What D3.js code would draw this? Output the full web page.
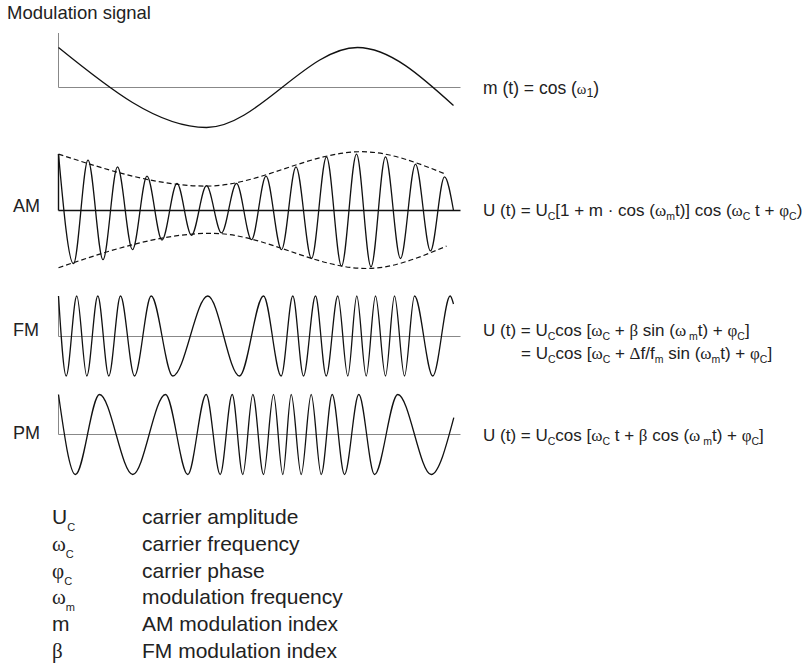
<!DOCTYPE html>
<meta charset="utf-8">
<head>
    <meta charset="utf-8">
    <title>Modulation signals</title>
    <script src="https://d3js.org/d3.v7.min.js"></script>
    <style>
        body { margin: 0; background: #fff; }
        text { font-family: 'Liberation Sans', Arial, sans-serif; fill: #222; }
        .greek { font-family: 'Liberation Serif', 'Times New Roman', serif; }
    </style>
</head>
<body>
<div id="my_dataviz"></div>
<script>
    // extremum positions (time units along the axis) and values
    var modT = [0, 148, 299, 395];
    var modV = [1, -1, 1, -0.45];

    var amT = [0, 15, 29.5, 44.5, 59, 74, 88.5, 103.5, 118.5, 133, 148, 163, 178, 193, 207.5,
               223, 237.5, 253, 268, 283, 298, 312.5, 327, 342, 357, 372, 386, 395];
    var amV = [1.41, -1.33, 1.26, -1.23, 1.09, -0.98, 0.86, -0.74, 0.68, -0.62, 0.62, -0.56, 0.68, -0.73, 0.86,
               -0.98, 1.09, -1.2, 1.34, -1.39, 1.41, -1.41, 1.34, -1.2, 1.16, -1.01, 0.84, 0];

    var envUpT = [0, 148, 303, 388];
    var envUpV = [1.41, 0.61, 1.47, 0.9];
    var envLoT = [0, 153, 308, 388];
    var envLoV = [-1.43, -0.57, -1.45, -0.89];

    var fmT = [0, 7.7, 18.3, 28.3, 39.3, 50.3, 62, 76, 92.7, 114.3, 149.3, 181, 205, 222.7, 234.3,
               245, 257, 267.7, 279.3, 289.3, 298.3, 307.7, 317, 327, 336, 346, 356, 374.3, 391.7, 395];
    var fmV = [1, -1, 1, -1, 1, -1, 1, -1, 1, -1, 1, -1, 1, -1, 1,
               -1, 1, -1, 1, -1, 1, -1, 1, -1, 1, -1, 1, -1, 1, 0.8];

    var pmT = [0, 17, 41, 74.3, 107, 129.3, 147.7, 161.7, 173.7, 184.3, 194.3, 205, 215, 224.3,
               232.7, 242.7, 252.7, 262.7, 273.7, 286, 300.3, 316, 339.3, 372.7, 395.3];
    var pmV = [1, -1, 1, -1, 1, -1, 1, -1, 1, -1, 1, -1, 1, -1,
               1, -1, 1, -1, 1, -1, 1, -1, 1, -1, 0.42];

    // text pieces: [text, kind] kind = g (greek), sub (subscript)
    var modFormula = [["m (t) = cos ("], ["ω", "g1"], ["1", "sub1"], [")"]];
    var amFormula = [["U (t) = U"], ["C", "sub"], ["[1 + m · cos ("], ["ω", "g"], ["m", "sub"], ["t)] cos ("],
                     ["ω", "g"], ["C", "sub"], [" t + "], ["φ", "g"], ["C", "sub"], [")"]];
    var fmFormula1 = [["U (t) = U"], ["C", "sub"], ["cos ["], ["ω", "g"], ["C", "sub"], [" + "], ["β", "g"],
                      [" sin ("], ["ω", "g"], [" m", "sub"], ["t) + "], ["φ", "g"], ["C", "sub"], ["]"]];
    var fmFormula2 = [["= U"], ["C", "sub"], ["cos ["], ["ω", "g"], ["C", "sub"], [" + "], ["Δ", "g"], ["f/f"],
                      ["m", "sub"], [" sin ("], ["ω", "g"], ["m", "sub"], ["t) + "], ["φ", "g"], ["C", "sub"], ["]"]];
    var pmFormula = [["U (t) = U"], ["C", "sub"], ["cos ["], ["ω", "g"], ["C", "sub"], [" t + "], ["β", "g"],
                     [" cos ("], ["ω", "g"], [" m", "sub"], ["t) + "], ["φ", "g"], ["C", "sub"], ["]"]];

    var rowLabels = ["AM", "FM", "PM"];
    var legendSymbols = [[["U"], ["C", "lsub"]], [["ω", "g"], ["C", "lsub"]], [["φ", "g"], ["C", "lsub"]],
                         [["ω", "g"], ["m", "lsub"]], [["m"]], [["β", "g"]]];
    var legendTexts = ["carrier amplitude", "carrier frequency", "carrier phase",
                       "modulation frequency", "AM modulation index", "FM modulation index"];

    var width = 810, height = 666;

    var svg = d3.select("#my_dataviz")
        .append("svg")
        .attr("width", width)
        .attr("height", height);

    svg.append("rect").attr("width", width).attr("height", height).attr("fill", "#fff");

    // shared time axis
    var x = d3.scaleLinear().domain([0, 402]).range([58.5, 460.5]);

    function yScale(cy) {
        return d3.scaleLinear().domain([-1, 1]).range([cy + 40, cy - 40]);
    }

    function drawAxis(cy, top, color, w) {
        svg.append("line")
            .attr("x1", x(0)).attr("x2", x(402)).attr("y1", cy).attr("y2", cy)
            .attr("stroke", color).attr("stroke-width", w);
        svg.append("line")
            .attr("x1", x(0)).attr("x2", x(0)).attr("y1", top).attr("y2", cy)
            .attr("stroke", color).attr("stroke-width", w);
    }

    function drawWave(ts, vs, y, dash) {
        var line = d3.line()
            .x(function(d) { return x(d[0]); })
            .y(function(d) { return y(d[1]); })
            .curve(d3.curveMonotoneX);
        svg.append("path")
            .datum(d3.zip(ts, vs))
            .attr("d", line)
            .attr("fill", "none")
            .attr("stroke", "#111")
            .attr("stroke-width", dash ? 1.2 : 1.3)
            .attr("stroke-dasharray", dash ? "5,3" : null);
    }

    // rich text with greek letters and subscripts
    function richText(parts, px, py, size) {
        var t = svg.append("text").attr("x", px).attr("y", py).style("font-size", size + "px");
        var shift = 0;
        parts.forEach(function(p) {
            var kind = p[1] || "";
            var s = t.append("tspan").text(p[0]);
            var target = 0;
            if (kind === "sub") { target = 4; s.style("font-size", "10.5px"); }
            else if (kind === "sub1") { target = 3; s.style("font-size", "12.5px"); }
            else if (kind === "lsub") { target = 7; s.style("font-size", "11px"); }
            else if (kind === "g") { s.attr("class", "greek"); }
            else if (kind === "g1") { s.attr("class", "greek").style("font-size", (size - 3) + "px"); }
            if (target !== shift) { s.attr("dy", target - shift); shift = target; }
        });
        return t;
    }

    // title
    svg.append("text").attr("x", 7).attr("y", 19).style("font-size", "18.5px").text("Modulation signal");

    // modulation signal
    var yMod = yScale(87.5);
    drawAxis(87.5, 33, "#888", 1);
    drawWave(modT, modV, yMod);

    // AM
    var yAm = yScale(210.5);
    drawAxis(210.5, 154, "#111", 1.4);
    drawWave(envUpT, envUpV, yAm, true);
    drawWave(envLoT, envLoV, yAm, true);
    drawWave(amT, amV, yAm);

    // FM
    var yFm = yScale(336);
    drawAxis(336.5, 296, "#888", 1);
    drawWave(fmT, fmV, yFm);

    // PM
    var yPm = yScale(434.5);
    drawAxis(434.5, 395, "#888", 1);
    drawWave(pmT, pmV, yPm);

    // row labels
    var labelY = [212, 336, 439];
    rowLabels.forEach(function(l, i) {
        svg.append("text").attr("x", 13).attr("y", labelY[i]).style("font-size", "18px").text(l);
    });

    // formulas
    richText(modFormula, 483, 94, 17.5);
    richText(amFormula, 483, 216, 17);
    richText(fmFormula1, 483, 336, 17);
    richText(fmFormula2, 521, 359, 17);
    richText(pmFormula, 483, 441, 17);

    // legend
    legendTexts.forEach(function(txt, i) {
        var by = 524 + i * 26.8;
        richText(legendSymbols[i], 52, by, 21);
        svg.append("text").attr("x", 142).attr("y", by).style("font-size", "21px").text(txt);
    });
</script>
</body>
